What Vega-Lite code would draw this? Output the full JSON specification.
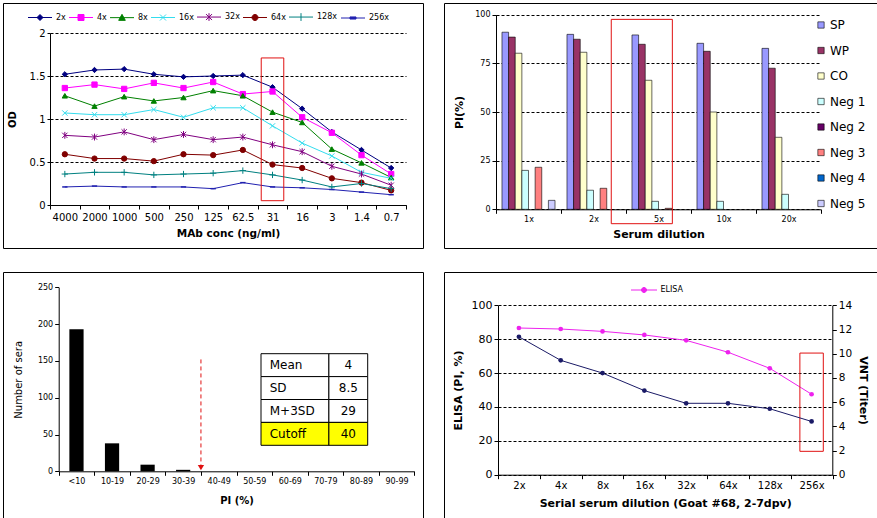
{
"$schema":"https://vega.github.io/schema/vega-lite/v6.json",
"padding":{"left":2,"top":2,"right":0,"bottom":0},
"background":"#FFFFFF",
"spacing":22,
"resolve":{"scale":{"fill":"independent","stroke":"independent","shape":"independent","color":"independent"},"legend":{"fill":"independent","stroke":"independent","shape":"independent","color":"independent"}},
"datasets":{
"od":[
{"s":"2x","c":"4000","v":1.52},{"s":"2x","c":"2000","v":1.57},{"s":"2x","c":"1000","v":1.58},{"s":"2x","c":"500","v":1.52},{"s":"2x","c":"250","v":1.49},{"s":"2x","c":"125","v":1.50},{"s":"2x","c":"62.5","v":1.51},{"s":"2x","c":"31","v":1.37},{"s":"2x","c":"16","v":1.12},{"s":"2x","c":"3","v":0.85},{"s":"2x","c":"1.4","v":0.64},{"s":"2x","c":"0.7","v":0.43},
{"s":"4x","c":"4000","v":1.36},{"s":"4x","c":"2000","v":1.40},{"s":"4x","c":"1000","v":1.35},{"s":"4x","c":"500","v":1.42},{"s":"4x","c":"250","v":1.36},{"s":"4x","c":"125","v":1.43},{"s":"4x","c":"62.5","v":1.29},{"s":"4x","c":"31","v":1.32},{"s":"4x","c":"16","v":1.02},{"s":"4x","c":"3","v":0.84},{"s":"4x","c":"1.4","v":0.58},{"s":"4x","c":"0.7","v":0.36},
{"s":"8x","c":"4000","v":1.27},{"s":"8x","c":"2000","v":1.15},{"s":"8x","c":"1000","v":1.26},{"s":"8x","c":"500","v":1.21},{"s":"8x","c":"250","v":1.25},{"s":"8x","c":"125","v":1.33},{"s":"8x","c":"62.5","v":1.27},{"s":"8x","c":"31","v":1.08},{"s":"8x","c":"16","v":0.96},{"s":"8x","c":"3","v":0.65},{"s":"8x","c":"1.4","v":0.49},{"s":"8x","c":"0.7","v":0.32},
{"s":"16x","c":"4000","v":1.07},{"s":"16x","c":"2000","v":1.05},{"s":"16x","c":"1000","v":1.05},{"s":"16x","c":"500","v":1.11},{"s":"16x","c":"250","v":1.02},{"s":"16x","c":"125","v":1.13},{"s":"16x","c":"62.5","v":1.13},{"s":"16x","c":"31","v":0.92},{"s":"16x","c":"16","v":0.72},{"s":"16x","c":"3","v":0.57},{"s":"16x","c":"1.4","v":0.38},{"s":"16x","c":"0.7","v":0.31},
{"s":"32x","c":"4000","v":0.81},{"s":"32x","c":"2000","v":0.79},{"s":"32x","c":"1000","v":0.85},{"s":"32x","c":"500","v":0.76},{"s":"32x","c":"250","v":0.82},{"s":"32x","c":"125","v":0.76},{"s":"32x","c":"62.5","v":0.79},{"s":"32x","c":"31","v":0.70},{"s":"32x","c":"16","v":0.62},{"s":"32x","c":"3","v":0.45},{"s":"32x","c":"1.4","v":0.36},{"s":"32x","c":"0.7","v":0.23},
{"s":"64x","c":"4000","v":0.59},{"s":"64x","c":"2000","v":0.54},{"s":"64x","c":"1000","v":0.54},{"s":"64x","c":"500","v":0.51},{"s":"64x","c":"250","v":0.59},{"s":"64x","c":"125","v":0.58},{"s":"64x","c":"62.5","v":0.64},{"s":"64x","c":"31","v":0.47},{"s":"64x","c":"16","v":0.43},{"s":"64x","c":"3","v":0.31},{"s":"64x","c":"1.4","v":0.26},{"s":"64x","c":"0.7","v":0.17},
{"s":"128x","c":"4000","v":0.36},{"s":"128x","c":"2000","v":0.38},{"s":"128x","c":"1000","v":0.38},{"s":"128x","c":"500","v":0.35},{"s":"128x","c":"250","v":0.36},{"s":"128x","c":"125","v":0.37},{"s":"128x","c":"62.5","v":0.40},{"s":"128x","c":"31","v":0.35},{"s":"128x","c":"16","v":0.29},{"s":"128x","c":"3","v":0.21},{"s":"128x","c":"1.4","v":0.25},{"s":"128x","c":"0.7","v":0.19},
{"s":"256x","c":"4000","v":0.21},{"s":"256x","c":"2000","v":0.22},{"s":"256x","c":"1000","v":0.21},{"s":"256x","c":"500","v":0.21},{"s":"256x","c":"250","v":0.21},{"s":"256x","c":"125","v":0.19},{"s":"256x","c":"62.5","v":0.26},{"s":"256x","c":"31","v":0.21},{"s":"256x","c":"16","v":0.20},{"s":"256x","c":"3","v":0.18},{"s":"256x","c":"1.4","v":0.15},{"s":"256x","c":"0.7","v":0.12}
],
"pi":[
{"d":"1x","g":"SP","v":91},{"d":"1x","g":"WP","v":88.5},{"d":"1x","g":"CO","v":80.2},{"d":"1x","g":"Neg 1","v":20},{"d":"1x","g":"Neg 3","v":21.6},{"d":"1x","g":"Neg 5","v":4.6},
{"d":"2x","g":"SP","v":89.9},{"d":"2x","g":"WP","v":87.4},{"d":"2x","g":"CO","v":80.7},{"d":"2x","g":"Neg 1","v":9.8},{"d":"2x","g":"Neg 3","v":10.8},
{"d":"5x","g":"SP","v":89.6},{"d":"5x","g":"WP","v":84.8},{"d":"5x","g":"CO","v":66.3},{"d":"5x","g":"Neg 1","v":4.1},{"d":"5x","g":"Neg 3","v":0.5},
{"d":"10x","g":"SP","v":85.3},{"d":"10x","g":"WP","v":81.2},{"d":"10x","g":"CO","v":50},{"d":"10x","g":"Neg 1","v":4.1},
{"d":"20x","g":"SP","v":82.7},{"d":"20x","g":"WP","v":72.5},{"d":"20x","g":"CO","v":37},{"d":"20x","g":"Neg 1","v":7.7}
],
"hist":[
{"c":"<10","v":193},{"c":"10-19","v":38},{"c":"20-29","v":9},{"c":"30-39","v":2},{"c":"40-49","v":0},{"c":"50-59","v":0},{"c":"60-69","v":0},{"c":"70-79","v":0},{"c":"80-89","v":0},{"c":"90-99","v":0}
],
"tbl":[{"k":"Mean","val":"4"},{"k":"SD","val":"8.5"},{"k":"M+3SD","val":"29"},{"k":"Cutoff","val":"40"}],
"gt":[
{"d":"2x","elisa":86.6,"vnt":11.4},{"d":"4x","elisa":86.0,"vnt":9.45},{"d":"8x","elisa":84.6,"vnt":8.4},{"d":"16x","elisa":82.5,"vnt":6.95},{"d":"32x","elisa":79.3,"vnt":5.9},{"d":"64x","elisa":72.3,"vnt":5.9},{"d":"128x","elisa":62.8,"vnt":5.45},{"d":"256x","elisa":47.5,"vnt":4.4}
]
},
"vconcat":[
{"hconcat":[
{
 "width":420,"height":245,
 "data":{"name":"od"},
 "encoding":{
  "x":{"field":"c","type":"ordinal","scale":{"type":"band","domain":["4000","2000","1000","500","250","125","62.5","31","16","3","1.4","0.7"],"range":[47,403],"paddingInner":0,"paddingOuter":0},
       "axis":{"title":"MAb conc (ng/ml)","labelAngle":0,"tickBand":"extent","offset":-43,"labelFontSize":10,"titleFontSize":10.5,"titleFontWeight":"bold","grid":false,"tickSize":4,"labelPadding":3,"titlePadding":6}},
  "y":{"field":"v","type":"quantitative","scale":{"domain":[0,2],"range":[202,30],"nice":false},
       "axis":{"title":"OD","values":[0,0.5,1,1.5,2],"format":"~g","offset":-47,"grid":true,"labelFontSize":10,"titleFontSize":10,"titleFontWeight":"bold","tickSize":3,"titlePadding":12}}
 },
 "layer":[
  {"mark":{"type":"line","strokeWidth":1},
   "encoding":{"stroke":{"field":"s","type":"nominal","scale":{"domain":["2x","4x","8x","16x","32x","64x","128x","256x"],"range":["#000080","#FF00FF","#008000","#33DDEE","#800080","#800000","#008080","#2020B0"]},
     "legend":{"orient":"none","legendX":33,"legendY":10,"direction":"horizontal","title":null,"labelFontSize":8,"columnPadding":1,"labelOffset":12,"symbolSize":36,"symbolStrokeWidth":1,
       "encode":{"symbols":{"update":{
         "shape":{"signal":"{'2x':'M-4,0H4M0,-1L1,0L0,1L-1,0Z','4x':'M-4,0H4M-1,-1H1V1H-1Z','8x':'M-4,0H4M0,-1.1L1.1,0.9H-1.1Z','16x':'M-4,0H4M-1,-1L1,1M-1,1L1,-1','32x':'M-4,0H4M-1,-1L1,1M-1,1L1,-1M0,-1.3V1.3','64x':'M-4,0H4M-1,0A1,1,0,1,0,1,0A1,1,0,1,0,-1,0Z','128x':'M-4,0H4M0,-1.3V1.3','256x':'M-4,0H4M-1,-0.35H1V0.35H-1Z'}[datum.value]"},
         "fill":{"signal":"{'2x':'#000080','4x':'#FF00FF','8x':'#008000','16x':'#33DDEE','32x':'#800080','64x':'#800000','128x':'#008080','256x':'#2020B0'}[datum.value]"},
         "strokeWidth":{"value":1},
         "opacity":{"value":1}
       }}}}}}},
  {"transform":[{"filter":"datum.s==='2x'"}],"mark":{"type":"point","shape":"diamond","filled":true,"opacity":1,"size":28,"strokeWidth":1},
   "encoding":{"fill":{"field":"s","type":"nominal","scale":{"domain":["2x","4x","8x","16x","32x","64x","128x","256x"],"range":["#000080","#FF00FF","#008000","#33DDEE","#800080","#800000","#008080","#2020B0"]},"legend":null},"stroke":{"field":"s","type":"nominal","legend":null}}},
  {"transform":[{"filter":"datum.s==='4x'"}],"mark":{"type":"point","shape":"square","filled":true,"opacity":1,"size":28,"strokeWidth":1},
   "encoding":{"fill":{"field":"s","type":"nominal","legend":null},"stroke":{"field":"s","type":"nominal","legend":null}}},
  {"transform":[{"filter":"datum.s==='8x'"}],"mark":{"type":"point","shape":"triangle-up","filled":true,"opacity":1,"size":28,"strokeWidth":1},
   "encoding":{"fill":{"field":"s","type":"nominal","legend":null},"stroke":{"field":"s","type":"nominal","legend":null}}},
  {"transform":[{"filter":"datum.s==='16x'"}],"mark":{"type":"point","shape":"M-1,-1L1,1M-1,1L1,-1","filled":true,"opacity":1,"size":28,"strokeWidth":1},
   "encoding":{"fill":{"field":"s","type":"nominal","legend":null},"stroke":{"field":"s","type":"nominal","legend":null}}},
  {"transform":[{"filter":"datum.s==='32x'"}],"mark":{"type":"point","shape":"M-1,-1L1,1M-1,1L1,-1M0,-1.3L0,1.3","filled":true,"opacity":1,"size":28,"strokeWidth":1},
   "encoding":{"fill":{"field":"s","type":"nominal","legend":null},"stroke":{"field":"s","type":"nominal","legend":null}}},
  {"transform":[{"filter":"datum.s==='64x'"}],"mark":{"type":"point","shape":"circle","filled":true,"opacity":1,"size":28,"strokeWidth":1},
   "encoding":{"fill":{"field":"s","type":"nominal","legend":null},"stroke":{"field":"s","type":"nominal","legend":null}}},
  {"transform":[{"filter":"datum.s==='128x'"}],"mark":{"type":"point","shape":"M-1.2,0H1.2M0,-1.2V1.2","filled":true,"opacity":1,"size":28,"strokeWidth":1},
   "encoding":{"fill":{"field":"s","type":"nominal","legend":null},"stroke":{"field":"s","type":"nominal","legend":null}}},
  {"transform":[{"filter":"datum.s==='256x'"}],"mark":{"type":"point","shape":"M-1,0H1","filled":true,"opacity":1,"size":28,"strokeWidth":1.5},
   "encoding":{"fill":{"field":"s","type":"nominal","legend":null},"stroke":{"field":"s","type":"nominal","legend":null}}},
  {"data":{"values":[{"c":"31","v":1.71,"v2":0.05}]},
   "mark":{"type":"bar","fill":"transparent","stroke":"#E01010","strokeWidth":1,"width":{"band":0.76}},
   "encoding":{"y2":{"field":"v2"}}}
 ]
},
{
 "width":435,"height":245,
 "encoding":{
  "x":{"field":"d","type":"ordinal","scale":{"type":"band","domain":["1x","2x","5x","10x","20x"],"range":[52,377],"paddingInner":0,"paddingOuter":0},
       "axis":{"title":"Serum dilution","labelAngle":0,"tickBand":"extent","offset":-38.7,"labelFontSize":8,"titleFontSize":11,"titleFontWeight":"bold","grid":false,"tickSize":4,"titlePadding":5}},
  "y":{"field":"v","type":"quantitative","stack":null,"scale":{"domain":[0,100],"range":[206.3,11.7],"nice":false},
       "axis":{"title":"PI(%)","values":[0,25,50,75,100],"offset":-52,"grid":true,"labelFontSize":8,"titleFontSize":11,"titleFontWeight":"bold","tickSize":4,"titlePadding":10}}
 },
 "layer":[
  {"data":{"name":"pi"},
   "mark":{"type":"bar","stroke":"#000000","strokeWidth":0.6},
   "encoding":{
    "xOffset":{"field":"g","type":"nominal","scale":{"domain":["SP","WP","CO","Neg 1","Neg 2","Neg 3","Neg 4","Neg 5"],"paddingInner":0,"paddingOuter":0.9}},
    "fill":{"field":"g","type":"nominal","scale":{"domain":["SP","WP","CO","Neg 1","Neg 2","Neg 3","Neg 4","Neg 5"],"range":["#9999FF","#993366","#FFFFCC","#CCFFFF","#660066","#FF8080","#0066CC","#CCCCFF"]},
      "legend":{"orient":"none","legendX":371,"legendY":16,"direction":"vertical","title":null,"symbolType":"square","symbolSize":40,"symbolStrokeColor":"#000000","symbolStrokeWidth":0.6,"labelFontSize":12,"rowPadding":13.5,"labelOffset":3}}
   }},
  {"data":{"values":[{"d":"5x","v":97.6,"v2":-7.4}]},
   "mark":{"type":"bar","fill":"transparent","stroke":"#E01010","strokeWidth":1,"width":{"band":0.94},"xOffset":-16.7},
   "encoding":{"y2":{"field":"v2"}}}
 ]
}
],"spacing":19,
"resolve":{"scale":{"fill":"independent","stroke":"independent","shape":"independent","color":"independent"},"legend":{"fill":"independent","stroke":"independent","shape":"independent","color":"independent"}}},
{"hconcat":[
{
 "width":420,"height":246,
 "layer":[
  {"data":{"name":"hist"},
   "encoding":{
    "x":{"field":"c","type":"ordinal","scale":{"type":"band","domain":["<10","10-19","20-29","30-39","40-49","50-59","60-69","70-79","80-89","90-99"],"range":[55.7,411.3],"paddingInner":0,"paddingOuter":0},
         "axis":{"title":"PI (%)","labelAngle":0,"tickBand":"extent","offset":-46.7,"labelFontSize":8,"titleFontSize":10,"titleFontWeight":"bold","grid":false,"tickSize":4,"titlePadding":10}},
    "y":{"field":"v","type":"quantitative","scale":{"domain":[0,250],"range":[199.3,15.3],"nice":false},
         "axis":{"title":"Number of sera","values":[0,50,100,150,200,250],"offset":-55.7,"grid":false,"labelFontSize":8,"titleFontSize":10,"titleFontWeight":"normal","tickSize":4,"titlePadding":14}}
   },
   "layer":[
    {"mark":{"type":"bar","fill":"#000000","width":{"band":0.4}}},
    {"data":{"values":[{"c":"40-49","v":152,"v2":8}]},
     "mark":{"type":"rule","stroke":"#E01010","strokeWidth":1,"strokeDash":[4,3]},
     "encoding":{"x":{"field":"c","type":"ordinal","bandPosition":0},"y2":{"field":"v2"}}},
    {"data":{"values":[{"c":"40-49","v":5}]},
     "mark":{"type":"point","shape":"triangle-down","filled":true,"fill":"#E01010","opacity":1,"size":40,"strokeWidth":0},
     "encoding":{"x":{"field":"c","type":"ordinal","bandPosition":0}}}
   ]},
  {"data":{"name":"tbl"},
   "encoding":{"y":{"field":"k","type":"ordinal","scale":{"type":"band","domain":["Mean","SD","M+3SD","Cutoff"],"range":[81.7,173.3],"paddingInner":0,"paddingOuter":0},"axis":null}},
   "layer":[
    {"mark":{"type":"rect","stroke":"#000000","strokeWidth":1},
     "encoding":{"x":{"datum":0,"type":"quantitative","scale":{"domain":[0,11],"range":[258,364.7],"nice":false,"zero":false},"axis":null},"x2":{"datum":7},
       "fill":{"condition":{"test":"datum.k==='Cutoff'","value":"#FFFF00"},"value":"#FFFFFF"}}},
    {"mark":{"type":"rect","stroke":"#000000","strokeWidth":1},
     "encoding":{"x":{"datum":7,"type":"quantitative","axis":null},"x2":{"datum":11},
       "fill":{"condition":{"test":"datum.k==='Cutoff'","value":"#FFFF00"},"value":"#FFFFFF"}}},
    {"mark":{"type":"text","align":"left","baseline":"middle","fontSize":12,"font":"DejaVu Sans"},
     "encoding":{"x":{"datum":0.9,"type":"quantitative","axis":null},"text":{"field":"k"}}},
    {"mark":{"type":"text","align":"center","baseline":"middle","fontSize":12,"font":"DejaVu Sans"},
     "encoding":{"x":{"datum":9,"type":"quantitative","axis":null},"text":{"field":"val"}}}
   ]}
 ],
 "resolve":{"scale":{"x":"independent","y":"independent"}}
},
{
 "width":435,"height":246,
 "data":{"name":"gt"},
 "encoding":{"x":{"field":"d","type":"ordinal","scale":{"type":"band","domain":["2x","4x","8x","16x","32x","64x","128x","256x"],"range":[54,388.5],"paddingInner":0,"paddingOuter":0},
   "axis":{"title":"Serial serum dilution (Goat #68, 2-7dpv)","labelAngle":0,"tickBand":"extent","offset":-43.3,"labelFontSize":10,"titleFontSize":11,"titleFontWeight":"bold","grid":false,"tickSize":4,"titlePadding":7}}},
 "layer":[
  {"encoding":{"y":{"field":"elisa","type":"quantitative","scale":{"domain":[0,100],"range":[202.7,33.3],"nice":false},
     "axis":{"title":"ELISA (PI, %)","values":[0,20,40,60,80,100],"offset":-54,"grid":true,"labelFontSize":11,"titleFontSize":11,"titleFontWeight":"bold","tickSize":4,"titlePadding":8}}},
   "layer":[
    {"mark":{"type":"line","strokeWidth":1,"point":{"filled":true,"size":22}},
     "encoding":{"color":{"datum":"ELISA","type":"nominal","scale":{"range":["#EE22EE"]},
       "legend":{"orient":"none","legendX":196,"legendY":14,"title":null,"labelFontSize":8,"symbolSize":25,"labelOffset":12.5,
         "symbolType":"M-5.2,0H5.2M-1,0A1,1,0,1,0,1,0A1,1,0,1,0,-1,0Z",
         "encode":{"symbols":{"update":{"shape":{"value":"M-5.2,0H5.2M-1,0A1,1,0,1,0,1,0A1,1,0,1,0,-1,0Z"},"fill":{"value":"#EE22EE"},"stroke":{"value":"#EE22EE"},"strokeWidth":{"value":1},"opacity":{"value":1}}}}}}}},
    {"data":{"values":[{"d":"256x","elisa":71.8,"e2":13.8}]},
     "mark":{"type":"bar","fill":"transparent","stroke":"#E01010","strokeWidth":1,"width":{"band":0.56}},
     "encoding":{"y2":{"field":"e2"}}}
   ]},
  {"mark":{"type":"line","strokeWidth":1,"color":"#1A1A66","point":{"filled":true,"size":22,"color":"#1A1A66"}},
   "encoding":{"y":{"field":"vnt","type":"quantitative","scale":{"domain":[0,14],"range":[202.7,33.3],"nice":false},
     "axis":{"title":"VNT (Titer)","orient":"right","values":[0,2,4,6,8,10,12,14],"offset":-46.7,"grid":false,"labelFontSize":10.5,"titleFontSize":11,"titleFontWeight":"bold","tickSize":4,"titlePadding":6}}}}
 ],
 "resolve":{"scale":{"y":"independent"}}
}
],"spacing":19,
"resolve":{"scale":{"fill":"independent","stroke":"independent","shape":"independent","color":"independent"},"legend":{"fill":"independent","stroke":"independent","shape":"independent","color":"independent"}}}
],
"config":{
 "view":{"stroke":"#000000","strokeWidth":1},
 "font":"DejaVu Sans",
 "axis":{"labelFont":"DejaVu Sans","titleFont":"DejaVu Sans","domainColor":"#000000","tickColor":"#000000","labelColor":"#000000","titleColor":"#000000","gridColor":"#000000","gridDash":[3,2],"gridOpacity":1,"domainWidth":1,"tickWidth":1},
 "legend":{"labelFont":"DejaVu Sans","padding":0,"labelColor":"#000000"}
}
}
